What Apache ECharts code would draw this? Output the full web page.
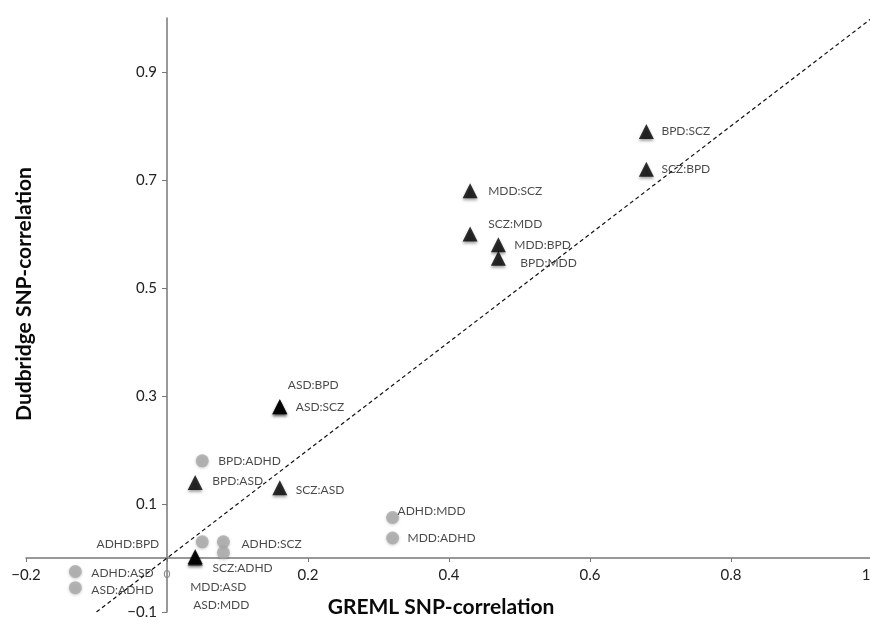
<!DOCTYPE html>
<html>
<head>
<meta charset="utf-8">
<script src="https://cdn.jsdelivr.net/npm/echarts@6/dist/echarts.min.js"></script>
<style>
  html, body { margin: 0; padding: 0; background: #fff; }
  #chart { width: 870px; height: 624px; }
</style>
</head>
<body>
<div id="chart"></div>
<script>
// pairs without ADHD (black triangles)
const triNames = ["BPD:SCZ", "SCZ:BPD", "MDD:SCZ", "SCZ:MDD", "MDD:BPD", "BPD:MDD",
  "ASD:BPD", "ASD:SCZ", "BPD:ASD", "SCZ:ASD", "MDD:ASD", "ASD:MDD"];
const triX = [0.68, 0.68, 0.43, 0.43, 0.47, 0.47, 0.16, 0.16, 0.04, 0.16, 0.04, 0.04];
const triY = [0.79, 0.72, 0.68, 0.60, 0.58, 0.555, 0.28, 0.28, 0.14, 0.13, 0.003, 0.0];

// pairs with ADHD (grey circles)
const circNames = ["BPD:ADHD", "ADHD:BPD", "ADHD:SCZ", "SCZ:ADHD", "ADHD:MDD", "MDD:ADHD",
  "ADHD:ASD", "ASD:ADHD"];
const circX = [0.05, 0.05, 0.08, 0.08, 0.32, 0.32, -0.13, -0.13];
const circY = [0.18, 0.03, 0.03, 0.01, 0.075, 0.037, -0.025, -0.055];

// identity line
const diagX = [-0.1, 1];
const diagY = [-0.1, 1];

const yTicks = [-0.1, 0.1, 0.3, 0.5, 0.7, 0.9];

// where each label sits relative to its marker: [dx, dy, align]
const labelPlace = {
  "BPD:SCZ": [15, 0, "left"], "SCZ:BPD": [15, 0, "left"],
  "MDD:SCZ": [18, 0, "left"], "SCZ:MDD": [18, -10, "left"],
  "MDD:BPD": [16, 0, "left"], "BPD:MDD": [22, 5, "left"],
  "ASD:BPD": [8, -22, "left"], "ASD:SCZ": [16, 0, "left"],
  "BPD:ASD": [17, -1, "left"], "SCZ:ASD": [16, 2, "left"],
  "MDD:ASD": [-5, 31, "left"], "ASD:MDD": [-2, 47, "left"],
  "BPD:ADHD": [16, 0, "left"], "ADHD:BPD": [-43, 2, "right"],
  "ADHD:SCZ": [18, 2, "left"], "SCZ:ADHD": [-11, 16, "left"],
  "ADHD:MDD": [5, -6, "left"], "MDD:ADHD": [15, 0, "left"],
  "ADHD:ASD": [16, 2, "left"], "ASD:ADHD": [16, 2, "left"]
};

const FONT = "Lato, 'Open Sans', sans-serif";

const toPoints = (names, xs, ys) =>
  names.map((n, i) => {
    const p = labelPlace[n];
    return {
      name: n,
      value: [xs[i], ys[i]],
      label: { offset: [p[0], p[1]], align: p[2] }
    };
  });

const pointLabel = {
  show: true,
  formatter: "{b}",
  position: "inside",
  verticalAlign: "middle",
  color: "#1a1a1a",
  fontSize: 12,
  fontFamily: FONT
};

const chart = echarts.init(document.getElementById("chart"));

// axes cross at (0, 0): shift them in from the grid edges
const option = {
  animation: false,
  backgroundColor: "#fff",
  grid: {
    left: 26, width: 846, top: 18, height: 594,
    containLabel: false,
    outerBoundsMode: "none"
  },
  xAxis: {
    type: "value",
    min: -0.2,
    max: 1,
    interval: 0.2,
    offset: -54,
    name: "GREML SNP-correlation",
    nameLocation: "middle",
    nameGap: 39,
    nameTextStyle: {
      fontFamily: FONT, fontWeight: "bold", fontSize: 21, color: "#0a0a0a",
      padding: [0, 16, 0, 0]
    },
    axisLine: { onZero: false, lineStyle: { color: "#777", width: 1.5 } },
    axisTick: { show: true, length: 4, lineStyle: { color: "#777" } },
    axisLabel: {
      margin: 10,
      fontFamily: FONT,
      fontSize: 15,
      color: "#222",
      formatter: (v) => {
        if (Math.abs(v) < 1e-9) return "{z|0}";
        if (Math.abs(v - 1) < 1e-9) return "{e|1}";
        return (v < 0 ? "\u2212" : "") + Math.abs(v).toFixed(1);
      },
      rich: {
        z: { fontSize: 12, color: "#8a8a8a", fontFamily: FONT },
        e: { fontSize: 15, color: "#222", fontFamily: FONT, padding: [0, 12, 0, 0] }
      }
    },
    splitLine: { show: false }
  },
  yAxis: {
    type: "value",
    min: -0.1,
    max: 1,
    offset: -141,
    name: "Dudbridge SNP-correlation",
    nameLocation: "middle",
    nameGap: 132,
    nameTextStyle: {
      fontFamily: FONT, fontWeight: "bold", fontSize: 21, color: "#0a0a0a",
      padding: [0, 0, 0, 42]
    },
    axisLine: { onZero: false, lineStyle: { color: "#777", width: 1.5 } },
    axisTick: { show: true, length: 5, customValues: yTicks, lineStyle: { color: "#777" } },
    axisLabel: {
      margin: 10,
      fontFamily: FONT,
      fontSize: 15,
      color: "#222",
      customValues: yTicks,
      formatter: (v) => (v < 0 ? "\u2212" : "") + Math.abs(v).toFixed(1)
    },
    splitLine: { show: false }
  },
  series: [
    {
      type: "line",
      data: diagX.map((x, i) => [x, diagY[i]]),
      symbol: "none",
      silent: true,
      lineStyle: { color: "#111", width: 1.2, type: [4, 3] },
      z: 1
    },
    {
      type: "scatter",
      symbol: "circle",
      symbolSize: 13,
      data: toPoints(circNames, circX, circY),
      itemStyle: {
        color: "#a8a8a8",
        shadowColor: "rgba(0,0,0,0.25)",
        shadowBlur: 3,
        shadowOffsetY: 1
      },
      label: pointLabel,
      z: 3
    },
    {
      type: "scatter",
      symbol: "triangle",
      symbolSize: 15,
      data: toPoints(triNames, triX, triY),
      itemStyle: {
        color: "#000",
        shadowColor: "rgba(0,0,0,0.45)",
        shadowBlur: 3,
        shadowOffsetY: 2
      },
      label: pointLabel,
      z: 4
    }
  ]
};

chart.setOption(option);
</script>
</body>
</html>
